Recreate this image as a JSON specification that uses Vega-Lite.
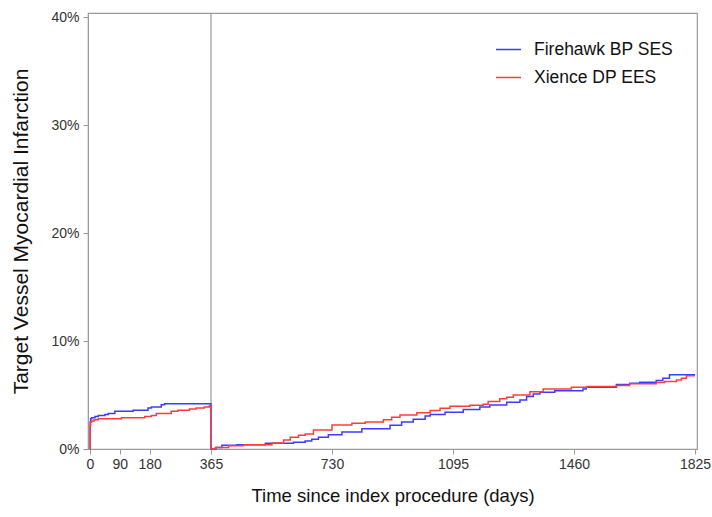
{
  "$schema": "https://vega.github.io/schema/vega-lite/v6.json",
  "autosize": {"type": "none"},
  "width": 609,
  "height": 436,
  "padding": {"left": 88, "top": 13, "right": 15, "bottom": 68},
  "background": "white",
  "config": {
    "font": "Liberation Sans",
    "view": {"stroke": "#9a9a9a", "strokeWidth": 1.2},
    "axis": {"grid": false, "domainColor": "#9a9a9a", "tickColor": "#9a9a9a", "tickSize": 5, "labelColor": "#333", "labelFontSize": 14, "titleColor": "#111", "titleFontWeight": "normal"}
  },
  "datasets": {
    "km": [
      {"group": "Firehawk BP SES", "day": 0, "pct": 0},
      {"group": "Firehawk BP SES", "day": 0.5, "pct": 2.5},
      {"group": "Firehawk BP SES", "day": 2, "pct": 2.8},
      {"group": "Firehawk BP SES", "day": 5, "pct": 2.9},
      {"group": "Firehawk BP SES", "day": 15, "pct": 3.0},
      {"group": "Firehawk BP SES", "day": 25, "pct": 3.1},
      {"group": "Firehawk BP SES", "day": 45, "pct": 3.2},
      {"group": "Firehawk BP SES", "day": 55, "pct": 3.3},
      {"group": "Firehawk BP SES", "day": 75, "pct": 3.5},
      {"group": "Firehawk BP SES", "day": 130, "pct": 3.6},
      {"group": "Firehawk BP SES", "day": 175, "pct": 3.8},
      {"group": "Firehawk BP SES", "day": 185, "pct": 3.9},
      {"group": "Firehawk BP SES", "day": 215, "pct": 4.1},
      {"group": "Firehawk BP SES", "day": 225, "pct": 4.2},
      {"group": "Firehawk BP SES", "day": 364.9, "pct": 4.2},
      {"group": "Firehawk BP SES", "day": 365, "pct": 0},
      {"group": "Firehawk BP SES", "day": 380, "pct": 0.15},
      {"group": "Firehawk BP SES", "day": 398, "pct": 0.35},
      {"group": "Firehawk BP SES", "day": 443, "pct": 0.4},
      {"group": "Firehawk BP SES", "day": 529, "pct": 0.53},
      {"group": "Firehawk BP SES", "day": 614, "pct": 0.62},
      {"group": "Firehawk BP SES", "day": 649, "pct": 0.75},
      {"group": "Firehawk BP SES", "day": 669, "pct": 0.9},
      {"group": "Firehawk BP SES", "day": 689, "pct": 1.08},
      {"group": "Firehawk BP SES", "day": 719, "pct": 1.33},
      {"group": "Firehawk BP SES", "day": 760, "pct": 1.58},
      {"group": "Firehawk BP SES", "day": 820, "pct": 1.88},
      {"group": "Firehawk BP SES", "day": 905, "pct": 2.2},
      {"group": "Firehawk BP SES", "day": 940, "pct": 2.5},
      {"group": "Firehawk BP SES", "day": 975, "pct": 2.75},
      {"group": "Firehawk BP SES", "day": 1011, "pct": 3.05},
      {"group": "Firehawk BP SES", "day": 1026, "pct": 3.2},
      {"group": "Firehawk BP SES", "day": 1071, "pct": 3.4},
      {"group": "Firehawk BP SES", "day": 1126, "pct": 3.65},
      {"group": "Firehawk BP SES", "day": 1176, "pct": 3.9},
      {"group": "Firehawk BP SES", "day": 1206, "pct": 4.08},
      {"group": "Firehawk BP SES", "day": 1257, "pct": 4.34},
      {"group": "Firehawk BP SES", "day": 1297, "pct": 4.55},
      {"group": "Firehawk BP SES", "day": 1317, "pct": 4.86},
      {"group": "Firehawk BP SES", "day": 1337, "pct": 5.1},
      {"group": "Firehawk BP SES", "day": 1357, "pct": 5.26},
      {"group": "Firehawk BP SES", "day": 1402, "pct": 5.39},
      {"group": "Firehawk BP SES", "day": 1487, "pct": 5.57},
      {"group": "Firehawk BP SES", "day": 1497, "pct": 5.73},
      {"group": "Firehawk BP SES", "day": 1588, "pct": 5.97},
      {"group": "Firehawk BP SES", "day": 1628, "pct": 6.1},
      {"group": "Firehawk BP SES", "day": 1658, "pct": 6.19},
      {"group": "Firehawk BP SES", "day": 1708, "pct": 6.34},
      {"group": "Firehawk BP SES", "day": 1728, "pct": 6.56},
      {"group": "Firehawk BP SES", "day": 1748, "pct": 6.87},
      {"group": "Firehawk BP SES", "day": 1825, "pct": 6.87},
      {"group": "Xience DP EES", "day": 0, "pct": 0},
      {"group": "Xience DP EES", "day": 0.5, "pct": 2.2},
      {"group": "Xience DP EES", "day": 2, "pct": 2.5},
      {"group": "Xience DP EES", "day": 5, "pct": 2.6},
      {"group": "Xience DP EES", "day": 12, "pct": 2.7},
      {"group": "Xience DP EES", "day": 25, "pct": 2.8},
      {"group": "Xience DP EES", "day": 95, "pct": 2.9},
      {"group": "Xience DP EES", "day": 165, "pct": 3.0},
      {"group": "Xience DP EES", "day": 185, "pct": 3.1},
      {"group": "Xience DP EES", "day": 200, "pct": 3.3},
      {"group": "Xience DP EES", "day": 245, "pct": 3.5},
      {"group": "Xience DP EES", "day": 265, "pct": 3.6},
      {"group": "Xience DP EES", "day": 300, "pct": 3.7},
      {"group": "Xience DP EES", "day": 320, "pct": 3.8},
      {"group": "Xience DP EES", "day": 345, "pct": 3.9},
      {"group": "Xience DP EES", "day": 360, "pct": 4.0},
      {"group": "Xience DP EES", "day": 364.9, "pct": 4.0},
      {"group": "Xience DP EES", "day": 365, "pct": 0},
      {"group": "Xience DP EES", "day": 378, "pct": 0.15},
      {"group": "Xience DP EES", "day": 418, "pct": 0.3},
      {"group": "Xience DP EES", "day": 463, "pct": 0.4},
      {"group": "Xience DP EES", "day": 549, "pct": 0.55},
      {"group": "Xience DP EES", "day": 584, "pct": 0.84},
      {"group": "Xience DP EES", "day": 604, "pct": 1.09},
      {"group": "Xience DP EES", "day": 629, "pct": 1.27},
      {"group": "Xience DP EES", "day": 649, "pct": 1.4},
      {"group": "Xience DP EES", "day": 674, "pct": 1.76},
      {"group": "Xience DP EES", "day": 730, "pct": 2.23},
      {"group": "Xience DP EES", "day": 790, "pct": 2.39},
      {"group": "Xience DP EES", "day": 830, "pct": 2.5},
      {"group": "Xience DP EES", "day": 885, "pct": 2.7},
      {"group": "Xience DP EES", "day": 910, "pct": 2.94},
      {"group": "Xience DP EES", "day": 935, "pct": 3.16},
      {"group": "Xience DP EES", "day": 986, "pct": 3.37},
      {"group": "Xience DP EES", "day": 1026, "pct": 3.56},
      {"group": "Xience DP EES", "day": 1056, "pct": 3.78},
      {"group": "Xience DP EES", "day": 1086, "pct": 3.95},
      {"group": "Xience DP EES", "day": 1146, "pct": 4.05},
      {"group": "Xience DP EES", "day": 1186, "pct": 4.15},
      {"group": "Xience DP EES", "day": 1201, "pct": 4.4},
      {"group": "Xience DP EES", "day": 1236, "pct": 4.65},
      {"group": "Xience DP EES", "day": 1257, "pct": 4.8},
      {"group": "Xience DP EES", "day": 1277, "pct": 5.0},
      {"group": "Xience DP EES", "day": 1327, "pct": 5.3},
      {"group": "Xience DP EES", "day": 1367, "pct": 5.57},
      {"group": "Xience DP EES", "day": 1452, "pct": 5.73},
      {"group": "Xience DP EES", "day": 1500, "pct": 5.78},
      {"group": "Xience DP EES", "day": 1588, "pct": 5.88},
      {"group": "Xience DP EES", "day": 1628, "pct": 6.04},
      {"group": "Xience DP EES", "day": 1708, "pct": 6.16},
      {"group": "Xience DP EES", "day": 1733, "pct": 6.25},
      {"group": "Xience DP EES", "day": 1769, "pct": 6.4},
      {"group": "Xience DP EES", "day": 1784, "pct": 6.56},
      {"group": "Xience DP EES", "day": 1799, "pct": 6.78},
      {"group": "Xience DP EES", "day": 1825, "pct": 6.78}
    ]
  },
  "layer": [
    {
      "data": {"values": [{"landmark": 365}]},
      "mark": {"type": "rule", "color": "#9a9a9a", "strokeWidth": 1.2},
      "encoding": {"x": {"field": "landmark", "type": "quantitative"}}
    },
    {
      "data": {"name": "km"},
      "mark": {"type": "line", "interpolate": "step-after", "strokeWidth": 1.5},
      "encoding": {
        "x": {
          "field": "day", "type": "quantitative",
          "scale": {"domain": [-6, 1831], "nice": false, "zero": false},
          "axis": {"values": [0, 90, 180, 365, 730, 1095, 1460, 1825], "format": "d", "title": "Time since index procedure (days)", "titleFontSize": 18.5, "titlePadding": 15, "labelPadding": 3}
        },
        "y": {
          "field": "pct", "type": "quantitative",
          "scale": {"domain": [0, 40.4], "nice": false},
          "axis": {"values": [0, 10, 20, 30, 40], "labelExpr": "datum.value + '%'", "title": "Target Vessel Myocardial Infarction", "titleFontSize": 21, "titlePadding": 19, "labelPadding": 4}
        },
        "color": {
          "field": "group", "type": "nominal",
          "scale": {"domain": ["Firehawk BP SES", "Xience DP EES"], "range": ["#3c3cff", "#ff3c3c"]},
          "legend": {"title": null, "orient": "none", "legendX": 407, "legendY": 23, "symbolType": "stroke", "symbolSize": 625, "symbolStrokeWidth": 1.5, "labelFontSize": 17.5, "labelColor": "#111", "labelOffset": 12, "rowPadding": 6, "padding": 0}
        }
      }
    }
  ]
}
